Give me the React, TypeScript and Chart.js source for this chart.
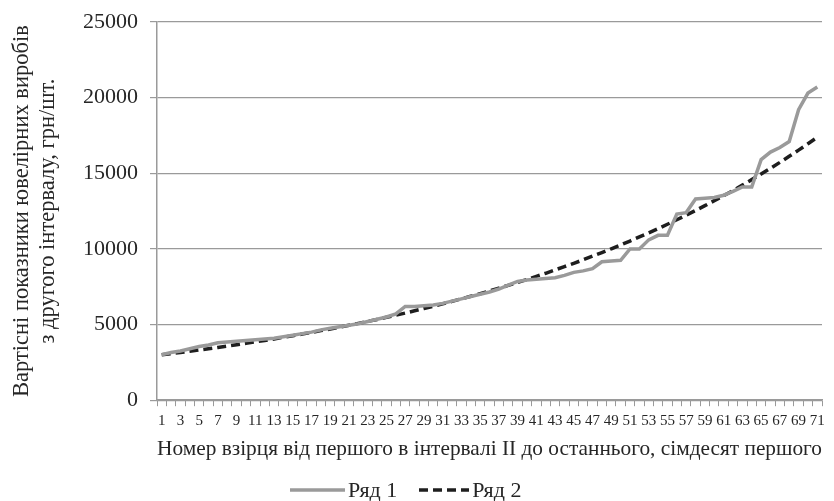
import React, { useEffect, useRef } from "react";
import { Chart, registerables } from "chart.js";

Chart.register(...registerables);

const categories: string[] = Array.from({ length: 71 }, (_, i) => String(i + 1));

const series1: number[] = [
  3000, 3150, 3250, 3400, 3550, 3650, 3800, 3850, 3900, 3950,
  4000, 4050, 4100, 4200, 4300, 4400, 4500, 4650, 4750, 4850,
  4950, 5050, 5200, 5350, 5500, 5700, 6200, 6200, 6250, 6300,
  6400, 6550, 6700, 6850, 7000, 7150, 7350, 7600, 7850, 7950,
  8000, 8050, 8100, 8250, 8450, 8550, 8700, 9150, 9200, 9250,
  10000, 10000, 10600, 10900, 10900, 12300, 12400, 13300, 13350, 13400,
  13550, 13800, 14100, 14100, 15900, 16400, 16700, 17100, 19200, 20300,
  20700,
];

const series2: number[] = [
  3000, 3080, 3150, 3230, 3320, 3400, 3490, 3580, 3670, 3760,
  3860, 3950, 4050, 4160, 4260, 4370, 4480, 4600, 4710, 4830,
  4960, 5080, 5210, 5340, 5480, 5620, 5760, 5910, 6060, 6210,
  6370, 6530, 6700, 6870, 7040, 7220, 7400, 7590, 7780, 7980,
  8190, 8390, 8610, 8830, 9050, 9280, 9520, 9760, 10010, 10260,
  10520, 10790, 11060, 11340, 11630, 11930, 12230, 12540, 12860, 13190,
  13520, 13860, 14220, 14580, 14950, 15330, 15720, 16120, 16530, 16950,
  17380,
];

const seriesNames: string[] = ["Ряд 1", "Ряд 2"];
const yTicks: number[] = [0, 5000, 10000, 15000, 20000, 25000];

const yTitle: string[] = [
  "Вартісні показники ювелірних виробів",
  "з другого інтервалу, грн/шт.",
];
const xTitle = "Номер взірця від першого в інтервалі II до останнього, сімдесят першого";

const FONT = "'Liberation Serif', 'DejaVu Serif', serif";
const TEXT = "#262626";
const GRID = "#9a9a9a";

const seriesStyles = [
  { color: "#9a9a9a", width: 3.5, dash: [] as number[] },
  { color: "#1e1e1e", width: 3.5, dash: [9, 5] },
];

function LegendItem({ name, color, width, dash, sample, gapLeft }: any) {
  return (
    <div style={{ display: "flex", alignItems: "center", marginLeft: gapLeft }}>
      <svg width={sample} height={10} style={{ display: "block" }}>
        <line
          x1={0}
          y1={5}
          x2={sample}
          y2={5}
          stroke={color}
          strokeWidth={width}
          strokeDasharray={dash.length ? dash.join(" ") : undefined}
        />
      </svg>
      <span style={{ marginLeft: 3, fontFamily: FONT, fontSize: 22, color: TEXT, lineHeight: "22px" }}>
        {name}
      </span>
    </div>
  );
}

export default function App() {
  const ref = useRef<HTMLCanvasElement | null>(null);

  useEffect(() => {
    document.body.style.margin = "0";
    if (!ref.current) return;
    const chart = new Chart(ref.current, {
      type: "line",
      data: {
        labels: categories,
        datasets: seriesNames.map((name, i) => ({
          label: name,
          data: i === 0 ? series1 : series2,
          borderColor: seriesStyles[i].color,
          backgroundColor: seriesStyles[i].color,
          borderWidth: seriesStyles[i].width,
          borderDash: seriesStyles[i].dash,
          pointRadius: 0,
          tension: 0,
          fill: false,
        })),
      },
      options: {
        animation: false,
        responsive: false,
        maintainAspectRatio: false,
        layout: { padding: { top: 22, right: 12, bottom: 25, left: 0 } },
        plugins: {
          tooltip: { enabled: false },
          legend: { display: false },
        },
        scales: {
          x: {
            type: "category",
            offset: true,
            grid: {
              offset: true,
              drawOnChartArea: false,
              color: GRID,
              tickLength: 6,
            },
            border: { color: GRID, width: 1.5 },
            ticks: {
              autoSkip: false,
              maxRotation: 0,
              minRotation: 0,
              color: TEXT,
              font: { family: FONT, size: 15 },
              padding: 6,
              callback: (_v: any, i: number) => (i % 2 === 0 ? categories[i] : ""),
            },
            title: {
              display: true,
              text: xTitle,
              color: TEXT,
              font: { family: FONT, size: 21.5 },
              padding: { top: 0, bottom: 14 },
            },
          },
          y: {
            min: 0,
            max: 25000,
            afterBuildTicks: (scale: any) => {
              scale.ticks = yTicks.map((v) => ({ value: v }));
            },
            afterFit: (scale: any) => {
              scale.width = 157;
              scale.paddingTop = 0;
            },
            grid: { color: GRID, lineWidth: 1.2, tickLength: 7 },
            border: { color: GRID, width: 1.5 },
            ticks: {
              color: TEXT,
              font: { family: FONT, size: 22 },
              padding: 12,
              callback: (v: any) => String(v),
            },
            title: {
              display: true,
              text: yTitle,
              color: TEXT,
              font: { family: FONT, size: 22.5, lineHeight: 1.15 },
              padding: { top: 9, bottom: 0 },
            },
          },
        },
      },
    });
    return () => chart.destroy();
  }, []);

  return (
    <div style={{ position: "relative", width: 834, height: 501, background: "#fff" }}>
      <canvas ref={ref} width={834} height={501} style={{ width: 834, height: 501, display: "block" }} />
      <div style={{ position: "absolute", left: 290, top: 479, display: "flex", alignItems: "center" }}>
        <LegendItem name={seriesNames[0]} {...seriesStyles[0]} sample={55} gapLeft={0} />
        <LegendItem name={seriesNames[1]} {...seriesStyles[1]} sample={50} gapLeft={22} />
      </div>
    </div>
  );
}
